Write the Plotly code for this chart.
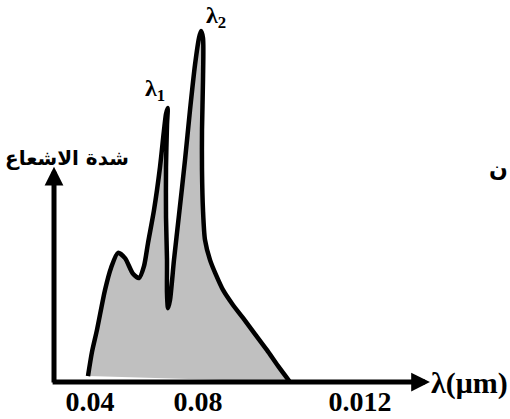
import plotly.graph_objects as go

# spectrum outline, wavelength in um and relative intensity
wavelength = [0.03926, 0.04074, 0.04259, 0.04556, 0.04778, 0.05037, 0.05296, 0.05593,
              0.05815, 0.06000, 0.06148, 0.06370, 0.06593, 0.06741, 0.06815, 0.06878,
              0.06852, 0.06815, 0.06815, 0.06852, 0.06852, 0.06889, 0.06963, 0.07111,
              0.07296, 0.07519, 0.07704, 0.07889, 0.08037, 0.08111, 0.08185, 0.08185,
              0.08148, 0.08148, 0.08185, 0.08259, 0.08444, 0.08667, 0.08926, 0.09296,
              0.09667, 0.10111, 0.10556, 0.10963, 0.11407]
intensity = [0.017, 0.086, 0.149, 0.263, 0.326, 0.369, 0.354, 0.309,
             0.297, 0.331, 0.397, 0.491, 0.614, 0.720, 0.766, 0.783,
             0.734, 0.614, 0.471, 0.349, 0.254, 0.211, 0.234, 0.349,
             0.477, 0.634, 0.777, 0.906, 0.983, 1.003, 0.983, 0.863,
             0.720, 0.606, 0.491, 0.406, 0.349, 0.306, 0.263, 0.220,
             0.183, 0.137, 0.091, 0.046, 0.0]

tick_vals = [0.04, 0.08, 0.14]
tick_text = ["0.04", "0.08", "0.012"]

y_title = "شدة الاشعاع"
x_title = "λ(μm)"
peak_labels = ["λ<sub>1</sub>", "λ<sub>2</sub>"]

W, H = 510, 419
x_range = [0.04 - 90 / 2700, 0.04 + 420 / 2700]
y_range = [(382 - 419) / 350, 382 / 350]

fig = go.Figure()

# grey area (closed back along the base)
fig.add_trace(go.Scatter(
    x=wavelength, y=intensity, fill="toself", fillcolor="#c0c0c0",
    mode="lines", line=dict(width=0, shape="spline", smoothing=0.7),
    hoverinfo="skip"))
# black outline
fig.add_trace(go.Scatter(
    x=wavelength, y=intensity, mode="lines",
    line=dict(color="black", width=4.5, shape="spline", smoothing=0.7)))

# axes drawn as arrows
fig.add_annotation(x=0.1659, y=0, ax=0.0256, ay=0, xref="x", yref="y",
                   axref="x", ayref="y", showarrow=True, arrowhead=2,
                   arrowsize=0.75, arrowwidth=5, arrowcolor="black", text="")
fig.add_annotation(x=0.02667, y=0.615, ax=0.02667, ay=-0.006, xref="x", yref="y",
                   axref="x", ayref="y", showarrow=True, arrowhead=2,
                   arrowsize=0.75, arrowwidth=5, arrowcolor="black", text="")


def label(txt, px, py, font):
    fig.add_annotation(x=px / W, y=1 - py / H, xref="paper", yref="paper",
                       xanchor="center", yanchor="middle",
                       text=txt, showarrow=False, font=font)


serif = dict(family="Liberation Serif", color="black", weight="bold")
arabic = dict(family="DejaVu Sans", color="black", weight="bold")
label(x_title, 469, 383, dict(size=30, **serif))
label(y_title, 67, 158, dict(size=20, **arabic))
label(peak_labels[0], 155, 90, dict(size=24, **serif))
label(peak_labels[1], 216, 17, dict(size=24, **serif))
label("ن", 498, 168, dict(size=22, **arabic))

fig.update_layout(
    width=W, height=H, margin=dict(l=0, r=0, t=0, b=0),
    paper_bgcolor="white", plot_bgcolor="white", showlegend=False,
    xaxis=dict(range=x_range, anchor="free", position=1 - 382 / H,
               showgrid=False, zeroline=False, showline=False, ticks="",
               tickvals=tick_vals, ticktext=tick_text,
               tickfont=dict(size=28, **serif)),
    yaxis=dict(range=y_range, visible=False),
)

fig.write_html("out.html", config={"displayModeBar": False},
               post_script="document.body.style.margin='0px';")
